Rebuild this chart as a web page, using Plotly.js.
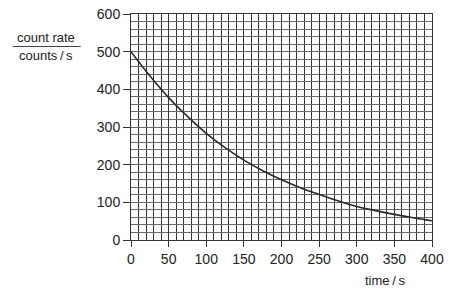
<!DOCTYPE html>
<html>
<head>
<meta charset="utf-8">
<script src="https://cdn.plot.ly/plotly-3.0.1.min.js"></script>
<style>html,body{margin:0;padding:0;background:#fff;}#chart{width:455px;height:294px;}</style>
</head>
<body>
<div id="chart"></div>
<script>
const timeS = [0, 25, 50, 75, 100, 125, 150, 175, 200, 225, 250, 275, 300, 325, 350, 375, 400];
const countRate = [500, 436, 378, 328, 283, 245, 212, 184, 160, 139, 121, 104, 89, 78, 68, 59, 51];
const xTicks = [0, 50, 100, 150, 200, 250, 300, 350, 400];
const yTicks = [0, 100, 200, 300, 400, 500, 600];

const W = 455, H = 294;
const L = 130.5, R = 22.5, T = 14, B = 54;
const pw = W - L - R, ph = H - T - B;
const px = v => (v - L) / pw;
const py = v => 1 - (v - T) / ph;

const font = {family: 'Liberation Sans, Arial, sans-serif', size: 14, color: '#222'};

const trace = {
  x: timeS, y: countRate, type: 'scatter', mode: 'lines',
  line: {color: '#2a2a2a', width: 1.6, shape: 'spline', smoothing: 1.1},
  hoverinfo: 'skip'
};

const layout = {
  width: W, height: H,
  margin: {l: L, r: R, t: T, b: B, pad: 0},
  paper_bgcolor: '#fff', plot_bgcolor: '#fff',
  showlegend: false,
  font: font,
  xaxis: {
    range: [0, 400], tickvals: xTicks, ticktext: xTicks.map(String),
    ticks: 'outside', ticklen: 6, tickcolor: '#333', tickwidth: 1,
    showgrid: true, gridcolor: '#333', gridwidth: 1,
    minor: {dtick: 10, tick0: 0, showgrid: true, gridcolor: '#333', gridwidth: 1, ticks: ''},
    showline: true, linecolor: '#333', linewidth: 1, mirror: true,
    zeroline: false, fixedrange: true, tickfont: font
  },
  yaxis: {
    range: [0, 600], tickvals: yTicks, ticktext: yTicks.map(String),
    ticks: 'outside', ticklen: 7, tickcolor: '#333', tickwidth: 1,
    showgrid: true, gridcolor: '#6a6a6a', gridwidth: 1,
    minor: {dtick: 20, tick0: 0, showgrid: true, gridcolor: '#6a6a6a', gridwidth: 1, ticks: ''},
    showline: true, linecolor: '#333', linewidth: 1, mirror: true,
    zeroline: false, fixedrange: true, tickfont: font
  },
  annotations: [
    {text: 'count rate', xref: 'paper', yref: 'paper', x: px(45.5), y: py(38), xanchor: 'center', yanchor: 'middle', showarrow: false, font: {family: font.family, size: 13, color: '#222'}},
    {text: 'counts\u2009/\u2009s', xref: 'paper', yref: 'paper', x: px(45.5), y: py(55.5), xanchor: 'center', yanchor: 'middle', showarrow: false, font: {family: font.family, size: 13, color: '#222'}},
    {text: 'time\u2009/\u2009s', xref: 'paper', yref: 'paper', x: px(385), y: py(280), xanchor: 'center', yanchor: 'middle', showarrow: false, font: {family: font.family, size: 13, color: '#222'}}
  ],
  shapes: [
    {type: 'line', xref: 'paper', yref: 'paper', x0: px(12), x1: px(80), y0: py(46.5), y1: py(46.5), line: {color: '#444', width: 1}}
  ]
};

Plotly.newPlot('chart', [trace], layout, {displayModeBar: false, staticPlot: true});
</script>
</body>
</html>
